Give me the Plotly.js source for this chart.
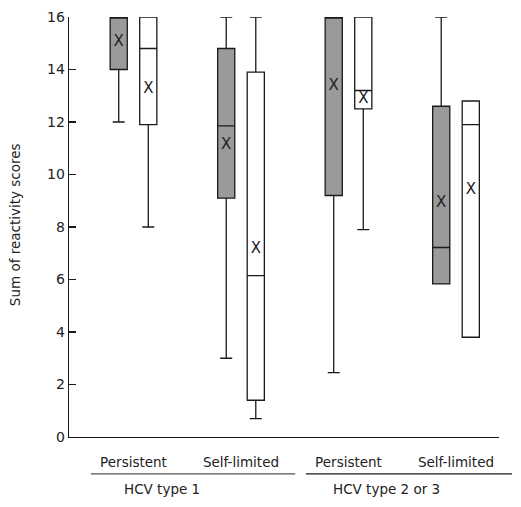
<!DOCTYPE html>
<html>
<head>
<meta charset="utf-8">
<script src="https://cdn.plot.ly/plotly-3.0.1.min.js"></script>
<style>html,body{margin:0;padding:0;background:#fff;}#chart{width:521px;height:507px;}</style>
</head>
<body>
<div id="chart"></div>
<script>
// Categories and labels
const categories = ['HCV1 Persistent', 'HCV1 Self-limited', 'HCV2/3 Persistent', 'HCV2/3 Self-limited'];
const tickLabels = ['Persistent', 'Self-limited', 'Persistent', 'Self-limited'];
const groupLabels = ['HCV type 1', 'HCV type 2 or 3'];
const yTitle = 'Sum of reactivity scores';

// Grey boxes
const greyMin = [12, 3.0, 2.45, 5.83];
const greyQ1 = [14, 9.1, 9.2, 5.83];
const greyMedian = [16, 11.85, 16, 7.22];
const greyQ3 = [16, 14.8, 16, 12.6];
const greyMax = [16, 16, 16, 16];
const greyMean = [15.05, 11.1, 13.35, 8.9];

// White boxes
const whiteMin = [8.0, 0.7, 7.9, 3.8];
const whiteQ1 = [11.9, 1.4, 12.5, 3.8];
const whiteMedian = [14.8, 6.15, 13.2, 11.9];
const whiteQ3 = [16, 13.9, 16, 12.8];
const whiteMax = [16, 16, 16, 12.8];
const whiteMean = [13.25, 7.15, 12.85, 9.4];

const FONT = 'DejaVu Sans, Verdana, sans-serif';
const lineCol = '#1a1a1a';

function boxTrace(name, q1, med, q3, lo, hi, fill, grp) {
  return {
    type: 'box', name: name, x: categories,
    q1: q1, median: med, q3: q3, lowerfence: lo, upperfence: hi,
    fillcolor: fill, line: {color: lineCol, width: 1.3},
    whiskerwidth: 0.7, boxpoints: false, offsetgroup: grp,
    hoverinfo: 'skip', showlegend: false
  };
}
function meanTrace(means, grp) {
  return {
    type: 'scatter', mode: 'text', x: categories, y: means,
    text: means.map(() => 'X'), textposition: 'middle center',
    textfont: {family: FONT, size: 15, color: '#222'},
    offsetgroup: grp, hoverinfo: 'skip', showlegend: false, cliponaxis: false
  };
}

const data = [
  boxTrace('grey', greyQ1, greyMedian, greyQ3, greyMin, greyMax, '#9a9a9a', 'a'),
  boxTrace('white', whiteQ1, whiteMedian, whiteQ3, whiteMin, whiteMax, '#ffffff', 'b'),
  meanTrace(greyMean, 'a'),
  meanTrace(whiteMean, 'b')
];

const layout = {
  width: 521, height: 507,
  margin: {l: 69, r: 22, t: 17, b: 70},
  paper_bgcolor: '#fff', plot_bgcolor: '#fff',
  font: {family: FONT, size: 13, color: '#222'},
  boxmode: 'group', boxgap: 0.45, boxgroupgap: 0.42,
  scattermode: 'group', scattergap: 0.45,
  showlegend: false,
  xaxis: {
    type: 'category', range: [-0.6, 3.4],
    tickvals: categories, ticktext: tickLabels,
    showline: true, linecolor: lineCol, linewidth: 1.3,
    ticks: '', showgrid: false, zeroline: false,
    ticklabelstandoff: 12,
    tickfont: {family: FONT, size: 13.5, color: '#222'}
  },
  yaxis: {
    range: [0, 16], dtick: 2, tick0: 0,
    showline: true, linecolor: lineCol, linewidth: 1.3,
    ticks: 'inside', ticklen: 7, tickcolor: lineCol, tickwidth: 1.2,
    showgrid: false, zeroline: false,
    tickfont: {family: FONT, size: 14, color: '#222'}
  },
  shapes: [
    {type: 'line', xref: 'paper', yref: 'paper', x0: 0.051, x1: 0.526, y0: -0.088, y1: -0.088,
     line: {color: '#555', width: 1.2}},
    {type: 'line', xref: 'paper', yref: 'paper', x0: 0.551, x1: 1.03, y0: -0.088, y1: -0.088,
     line: {color: lineCol, width: 1.2}}
  ],
  annotations: [
    {text: groupLabels[0], xref: 'paper', yref: 'paper', x: 0.217, y: -0.124,
     showarrow: false, xanchor: 'center', yanchor: 'middle', font: {family: FONT, size: 13.5, color: '#222'}},
    {text: groupLabels[1], xref: 'paper', yref: 'paper', x: 0.739, y: -0.124,
     showarrow: false, xanchor: 'center', yanchor: 'middle', font: {family: FONT, size: 13.5, color: '#222'}},
    {text: yTitle, xref: 'paper', yref: 'paper', x: -0.125, y: 0.505, textangle: -90,
     showarrow: false, xanchor: 'center', yanchor: 'middle', font: {family: FONT, size: 13.5, color: '#222'}}
  ]
};

Plotly.newPlot('chart', data, layout, {staticPlot: true, displayModeBar: false});
</script>
</body>
</html>
